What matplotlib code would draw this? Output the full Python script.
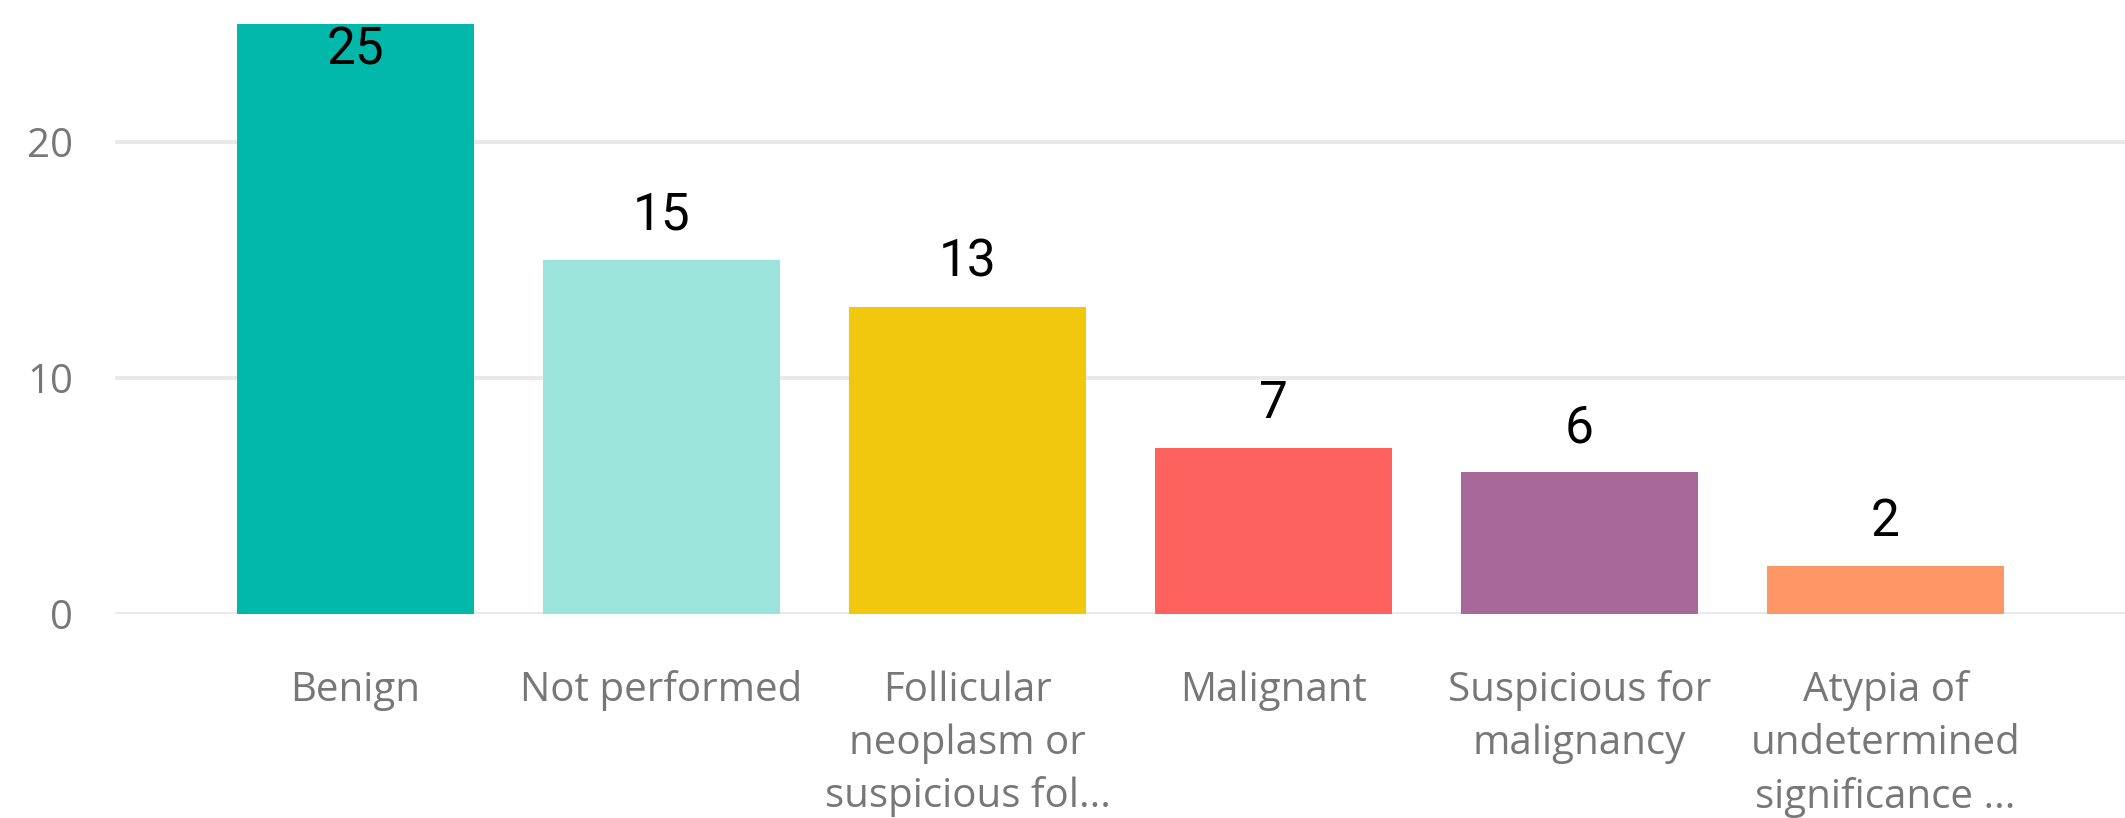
import matplotlib
matplotlib.use("Agg")
import matplotlib.pyplot as plt

categories = ["Benign", "Not performed", "Follicular\nneoplasm or\nsuspicious fol...",
              "Malignant", "Suspicious for\nmalignancy", "Atypia of\nundetermined\nsignificance ..."]
values = [25, 15, 13, 7, 6, 2]
colors = ["#01B8AA", "#9AE4DC", "#F2C80F", "#FD625E", "#A66999", "#FE9666"]
yticks = [0, 10, 20]

DPI = 100
fig = plt.figure(figsize=(21.25, 8.18), dpi=DPI)
W, H = 2125, 818
ax = fig.add_axes([115 / W, (H - 613.5) / H, (W - 115) / W, (613.5 - 24) / H])

x = list(range(len(values)))
ax.bar(x, values, width=0.775, color=colors, zorder=2)
ax.set_xlim(-0.786, 5.783)
ax.set_ylim(0, 25)

for v in yticks:
    ax.axhline(v, color="#E9E9E9", lw=2.9, zorder=1)

for s in ax.spines.values():
    s.set_visible(False)
ax.set_yticks(yticks)
ax.set_yticklabels([str(t) for t in yticks], color="#777777", fontsize=29, family="Open Sans")
ax.tick_params(axis="y", length=0, pad=30)
ax.set_xticks(x)
ax.set_xticklabels(categories, color="#777777", fontsize=29, family="Open Sans", linespacing=1.4)
ax.tick_params(axis="x", length=0, pad=41)

for xi, v in zip(x, values):
    if v >= 24:
        ax.annotate(str(v), (xi, v), xytext=(0, -1), textcoords="offset points",
                    ha="center", va="top", fontsize=37, color="black", family="Roboto")
    else:
        ax.annotate(str(v), (xi, v), xytext=(0, 21.6), textcoords="offset points",
                    ha="center", va="baseline", fontsize=37, color="black", family="Roboto")

fig.savefig("out.png", dpi=DPI)
